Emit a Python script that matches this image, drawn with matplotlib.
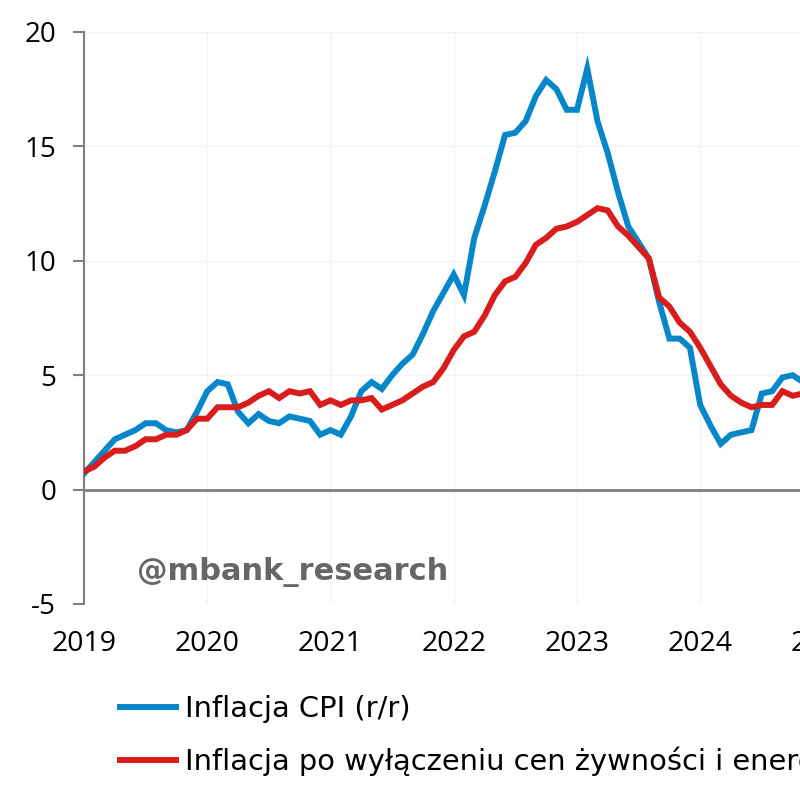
import matplotlib
matplotlib.use("Agg")
import matplotlib.pyplot as plt
import numpy as np

# monthly data, Jan 2019 onwards
cpi = [0.7, 1.2, 1.7, 2.2, 2.4, 2.6, 2.9, 2.9, 2.6, 2.5, 2.6, 3.4,
       4.3, 4.7, 4.6, 3.4, 2.9, 3.3, 3.0, 2.9, 3.2, 3.1, 3.0, 2.4,
       2.6, 2.4, 3.2, 4.3, 4.7, 4.4, 5.0, 5.5, 5.9, 6.8, 7.8, 8.6,
       9.4, 8.5, 11.0, 12.4, 13.9, 15.5, 15.6, 16.1, 17.2, 17.9, 17.5, 16.6,
       16.6, 18.4, 16.1, 14.7, 13.0, 11.5, 10.8, 10.1, 8.2, 6.6, 6.6, 6.2,
       3.7, 2.8, 2.0, 2.4, 2.5, 2.6, 4.2, 4.3, 4.9, 5.0, 4.7, 4.7]
core = [0.8, 1.0, 1.4, 1.7, 1.7, 1.9, 2.2, 2.2, 2.4, 2.4, 2.6, 3.1,
        3.1, 3.6, 3.6, 3.6, 3.8, 4.1, 4.3, 4.0, 4.3, 4.2, 4.3, 3.7,
        3.9, 3.7, 3.9, 3.9, 4.0, 3.5, 3.7, 3.9, 4.2, 4.5, 4.7, 5.3,
        6.1, 6.7, 6.9, 7.6, 8.5, 9.1, 9.3, 9.9, 10.7, 11.0, 11.4, 11.5,
        11.7, 12.0, 12.3, 12.2, 11.5, 11.1, 10.6, 10.1, 8.4, 8.0, 7.3, 6.9,
        6.2, 5.4, 4.6, 4.1, 3.8, 3.6, 3.7, 3.7, 4.3, 4.1, 4.2, 4.0]
years = ["2019", "2020", "2021", "2022", "2023", "2024", "2025"]
y_ticks = [-5, 0, 5, 10, 15, 20]
labels = ["Inflacja CPI (r/r)",
          "Inflacja po wyłączeniu cen żywności i energii (r/r)"]

BLUE = "#0787c9"
RED = "#d91c1c"
GRAY = "#808080"

plt.rcParams["font.family"] = ["Open Sans", "DejaVu Sans"]

fig = plt.figure(figsize=(8, 8), dpi=100)
# axes deliberately runs past the right edge (chart is cropped)
ax = fig.add_axes([84 / 800, 1 - 604 / 800, 78 * 10.27 / 800, 572 / 800])

months = np.arange(len(cpi))
ax.plot(months, cpi, color=BLUE, lw=4.3, solid_joinstyle="miter", zorder=3, label=labels[0])
ax.plot(months, core, color=RED, lw=4.3, solid_joinstyle="miter", zorder=4, label=labels[1])

ax.set_xlim(0, 78)
ax.set_ylim(-5, 20)
ax.set_yticks(y_ticks)
ax.set_yticklabels([str(v) for v in y_ticks], fontsize=20)
ax.set_xticks(np.arange(len(years)) * 12)
ax.set_xticklabels(years, fontsize=20.5)

ax.grid(True, color="#f3f3f3", lw=1.0, zorder=0)
ax.axhline(0, color=GRAY, lw=2, zorder=2)

for side in ["top", "right", "bottom"]:
    ax.spines[side].set_visible(False)
ax.spines["left"].set_color(GRAY)
ax.spines["left"].set_linewidth(1.5)
ax.tick_params(axis="y", length=8, width=1.5, color=GRAY, pad=12)
ax.tick_params(axis="x", length=0, pad=19)

fig.text(137 / 800, 1 - 572 / 800, "@mbank_research", fontsize=22,
         fontweight="bold", color="#666666", family="DejaVu Sans", va="center")

fig.legend(loc="upper left", bbox_to_anchor=(94 / 800, 1 - 669 / 800),
           frameon=False, handlelength=1.95, handletextpad=0.3,
           labelspacing=0.8, prop={"family": "DejaVu Sans", "size": 20.8})

fig.savefig("out.png", dpi=100)
